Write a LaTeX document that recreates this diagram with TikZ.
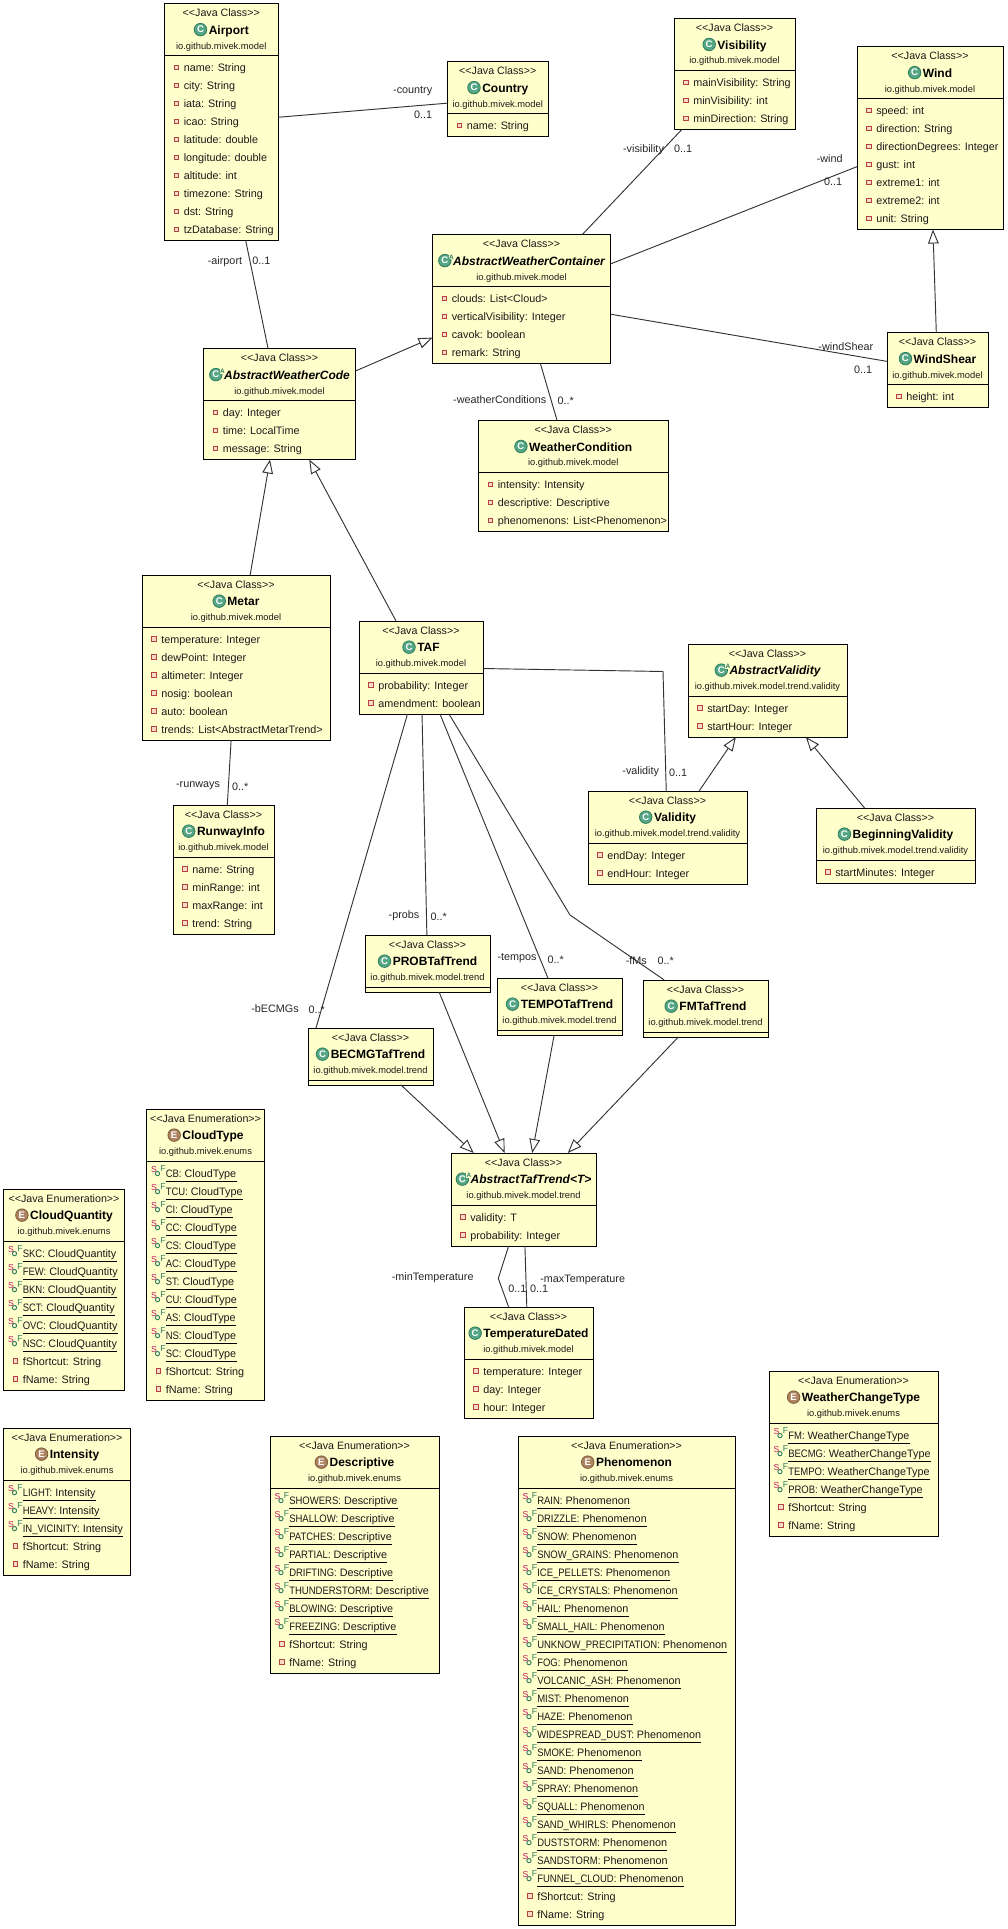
\documentclass[tikz,border=0pt]{standalone}
\usepackage{fontspec}
\setmainfont{Liberation Sans}
\newfontfamily\capsfont[FakeStretch=0.88]{Liberation Sans}
\usetikzlibrary{arrows.meta,positioning}
\definecolor{umlYellow}{HTML}{FFFFCC}
\definecolor{iconGreen}{HTML}{55A685}
\definecolor{iconGreenDark}{HTML}{2F7D5E}
\definecolor{iconBrown}{HTML}{AD845F}
\definecolor{iconBrownDark}{HTML}{7D5B3C}
\definecolor{fieldRed}{HTML}{B5403F}
\definecolor{fieldPale}{HTML}{F6DCC4}
\definecolor{staticRed}{HTML}{C2185B}
\tikzset{
  classbox/.style={rectangle,draw=black,fill=umlYellow,line width=0.75pt,inner sep=0pt,outer sep=0pt},
  sepline/.style={draw=black,line width=0.75pt},
  tagtext/.style={anchor=base,inner sep=0pt,text=black!90,font=\fontsize{8pt}{10pt}\selectfont},
  titletext/.style={anchor=base,inner sep=0pt,font=\fontsize{9pt}{10pt}\selectfont\bfseries},
  pkgtext/.style={anchor=base,inner sep=0pt,text=black!90,font=\fontsize{7pt}{9pt}\selectfont},
  rowtext/.style={anchor=base west,inner sep=0pt,text=black!90,text height=6.5pt,text depth=3.2pt,font=\fontsize{8.1pt}{10pt}\selectfont},
  rowline/.style={draw=black,line width=0.6pt},
  fieldicon/.style={rectangle,draw=fieldRed,fill=fieldPale,line width=0.75pt,minimum size=3.2pt,inner sep=0pt},
  staticS/.style={inner sep=0pt,text=staticRed,font=\fontsize{6.5pt}{7pt}\selectfont},
  staticF/.style={inner sep=0pt,text=iconGreenDark,font=\fontsize{6.5pt}{7pt}\selectfont},
  staticdot/.style={circle,draw=iconGreenDark,line width=0.7pt,minimum size=3.2pt,inner sep=0pt},
  iconC/.style={circle,draw=iconGreenDark,fill=iconGreen,line width=0.6pt,minimum size=9.4pt,inner sep=0pt,text=white,font=\fontsize{7.2pt}{8pt}\selectfont\bfseries},
  iconA/.style={iconC,label={[abstractmark]center:A}},
  iconE/.style={iconC,draw=iconBrownDark,fill=iconBrown},
  abstractmark/.style={inner sep=0.2pt,xshift=4.9pt,yshift=2.7pt,text=iconGreenDark,fill=umlYellow,font=\fontsize{4.8pt}{5pt}\selectfont\bfseries},
  assoc/.style={draw=black!80,line width=0.7pt},
  extends/.style={assoc,-{Triangle[open,fill=white,length=10.5pt,width=8pt]}},
  rolelabel/.style={inner sep=0pt,text=black!85,font=\fontsize{8.1pt}{10pt}\selectfont}
}
\newcommand{\iconletterC}{C}
\newcommand{\iconletterA}{C}
\newcommand{\iconletterE}{E}
\newcommand{\umltagC}{<{}<Java Class>{}>}
\newcommand{\umltagA}{<{}<Java Class>{}>}
\newcommand{\umltagE}{<{}<Java Enumeration>{}>}
\def\constsplit#1: #2\relax{{\capsfont #1:} #2}
% name, left, right, top, number of rows, kind, title, package
\newcommand{\umlclass}[8]{
  \pgfmathsetmacro\leftx{#2}
  \pgfmathsetmacro\sepy{#4+52}
  \pgfmathsetmacro\midx{(#2+#3)/2}
  \pgfmathsetmacro\boxh{57+18*#5}
  \node[classbox,minimum width=(#3-#2)*0.75pt,minimum height=\boxh*0.75pt] (#1) at (\midx,#4+\boxh/2) {};
  \draw[sepline] (#2,\sepy) -- (#3,\sepy);
  \node[tagtext] (#1-tag) at (\midx,#4+13.3) {\csname umltag#6\endcsname};
  \node[titletext] (#1-title) at (\midx+7.5,#4+30.8) {#7};
  \node[icon#6,left=1pt of #1-title.base west,yshift=3.5pt] (#1-icon) {\csname iconletter#6\endcsname};
  \node[pkgtext] (#1-pkg) at (\midx,#4+45.6) {#8};
}
% name, first row, rows
\newcommand{\umlfields}[3]{
  \foreach \entry [count=\rowno from #2] in {#3} {
    \pgfmathsetmacro\rowy{\sepy+16+18*\rowno}
    \node[rowtext] (#1-r\rowno) at (\leftx+19,\rowy) {\entry};
    \node[fieldicon] (#1-f\rowno) at (\leftx+12,\rowy-4) {};
  }
}
\newcommand{\umlconsts}[3]{
  \foreach \entry [count=\rowno from #2] in {#3} {
    \pgfmathsetmacro\rowy{\sepy+16+18*\rowno}
    \node[rowtext] (#1-r\rowno) at (\leftx+19,\rowy) {\expandafter\constsplit\entry\relax};
    \draw[rowline] (#1-r\rowno.south west) -- (#1-r\rowno.south east);
    \node[staticdot] (#1-d\rowno) at (\leftx+11,\rowy-3.4) {};
    \node[staticS] (#1-s\rowno) at (\leftx+7.5,\rowy-7.5) {S};
    \node[staticF] (#1-t\rowno) at (\leftx+16.6,\rowy-8.3) {F};
  }
}
\begin{document}
\begin{tikzpicture}[x=0.75pt,y=-0.75pt]
  \useasboundingbox (0,0) rectangle (1007,1929);
  \umlclass{airport}{164.5}{278}{3.5}{10}{C}{Airport}{io.github.mivek.model}
  \umlfields{airport}{0}{name: String,city: String,iata: String,icao: String,latitude: double,longitude: double,altitude: int,timezone: String,dst: String,tzDatabase: String}
  \umlclass{country}{447.5}{548}{61.5}{1}{C}{Country}{io.github.mivek.model}
  \umlfields{country}{0}{name: String}
  \umlclass{visibility}{674}{795}{18.3}{3}{C}{Visibility}{io.github.mivek.model}
  \umlfields{visibility}{0}{mainVisibility: String,minVisibility: int,minDirection: String}
  \umlclass{wind}{857}{1003}{46.5}{7}{C}{Wind}{io.github.mivek.model}
  \umlfields{wind}{0}{speed: int,direction: String,directionDegrees: Integer,gust: int,extreme1: int,extreme2: int,unit: String}
  \umlclass{container}{432.5}{610.5}{234.5}{4}{A}{\itshape AbstractWeatherContainer}{io.github.mivek.model}
  \umlfields{container}{0}{clouds: List<Cloud>,verticalVisibility: Integer,cavok: boolean,remark: String}
  \umlclass{windShear}{887}{988}{332.5}{1}{C}{WindShear}{io.github.mivek.model}
  \umlfields{windShear}{0}{height: int}
  \umlclass{condition}{478.5}{668}{420.3}{3}{C}{WeatherCondition}{io.github.mivek.model}
  \umlfields{condition}{0}{intensity: Intensity,descriptive: Descriptive,phenomenons: List<Phenomenon>}
  \umlclass{code}{203.5}{355.5}{348.5}{3}{A}{\itshape AbstractWeatherCode}{io.github.mivek.model}
  \umlfields{code}{0}{day: Integer,time: LocalTime,message: String}
  \umlclass{metar}{142}{330}{575}{6}{C}{Metar}{io.github.mivek.model}
  \umlfields{metar}{0}{temperature: Integer,dewPoint: Integer,altimeter: Integer,nosig: boolean,auto: boolean,trends: List<AbstractMetarTrend>}
  \umlclass{taf}{359}{483}{621}{2}{C}{TAF}{io.github.mivek.model}
  \umlfields{taf}{0}{probability: Integer,amendment: boolean}
  \umlclass{runway}{173}{274}{805}{4}{C}{RunwayInfo}{io.github.mivek.model}
  \umlfields{runway}{0}{name: String,minRange: int,maxRange: int,trend: String}
  \umlclass{absValidity}{688}{847}{644}{2}{A}{\itshape AbstractValidity}{io.github.mivek.model.trend.validity}
  \umlfields{absValidity}{0}{startDay: Integer,startHour: Integer}
  \umlclass{validity}{588}{747}{791}{2}{C}{Validity}{io.github.mivek.model.trend.validity}
  \umlfields{validity}{0}{endDay: Integer,endHour: Integer}
  \umlclass{beginValidity}{816}{975}{808}{1}{C}{BeginningValidity}{io.github.mivek.model.trend.validity}
  \umlfields{beginValidity}{0}{startMinutes: Integer}
  \umlclass{prob}{365}{490}{935}{0}{C}{PROBTafTrend}{io.github.mivek.model.trend}
  \umlclass{tempo}{497}{622}{978}{0}{C}{TEMPOTafTrend}{io.github.mivek.model.trend}
  \umlclass{fm}{643}{768}{980}{0}{C}{FMTafTrend}{io.github.mivek.model.trend}
  \umlclass{becmg}{308}{433}{1028}{0}{C}{BECMGTafTrend}{io.github.mivek.model.trend}
  \umlclass{tafTrend}{451}{596}{1153}{2}{A}{\itshape AbstractTafTrend<T>}{io.github.mivek.model.trend}
  \umlfields{tafTrend}{0}{validity: T,probability: Integer}
  \umlclass{tempDated}{464}{593}{1307}{3}{C}{TemperatureDated}{io.github.mivek.model}
  \umlfields{tempDated}{0}{temperature: Integer,day: Integer,hour: Integer}
  \umlclass{cloudQuantity}{3.5}{124.5}{1189}{8}{E}{CloudQuantity}{io.github.mivek.enums}
  \umlconsts{cloudQuantity}{0}{SKC: CloudQuantity,FEW: CloudQuantity,BKN: CloudQuantity,SCT: CloudQuantity,OVC: CloudQuantity,NSC: CloudQuantity}
  \umlfields{cloudQuantity}{6}{fShortcut: String,fName: String}
  \umlclass{cloudType}{146.5}{264.5}{1109}{13}{E}{CloudType}{io.github.mivek.enums}
  \umlconsts{cloudType}{0}{CB: CloudType,TCU: CloudType,CI: CloudType,CC: CloudType,CS: CloudType,AC: CloudType,ST: CloudType,CU: CloudType,AS: CloudType,NS: CloudType,SC: CloudType}
  \umlfields{cloudType}{11}{fShortcut: String,fName: String}
  \umlclass{intensity}{3.5}{130.5}{1428}{5}{E}{Intensity}{io.github.mivek.enums}
  \umlconsts{intensity}{0}{LIGHT: Intensity,HEAVY: Intensity,IN\_VICINITY: Intensity}
  \umlfields{intensity}{3}{fShortcut: String,fName: String}
  \umlclass{descriptive}{270}{439}{1436}{10}{E}{Descriptive}{io.github.mivek.enums}
  \umlconsts{descriptive}{0}{SHOWERS: Descriptive,SHALLOW: Descriptive,PATCHES: Descriptive,PARTIAL: Descriptive,DRIFTING: Descriptive,THUNDERSTORM: Descriptive,BLOWING: Descriptive,FREEZING: Descriptive}
  \umlfields{descriptive}{8}{fShortcut: String,fName: String}
  \umlclass{phenomenon}{518}{735}{1436}{24}{E}{Phenomenon}{io.github.mivek.enums}
  \umlconsts{phenomenon}{0}{RAIN: Phenomenon,DRIZZLE: Phenomenon,SNOW: Phenomenon,SNOW\_GRAINS: Phenomenon,ICE\_PELLETS: Phenomenon,ICE\_CRYSTALS: Phenomenon,HAIL: Phenomenon,SMALL\_HAIL: Phenomenon,UNKNOW\_PRECIPITATION: Phenomenon,FOG: Phenomenon,VOLCANIC\_ASH: Phenomenon,MIST: Phenomenon,HAZE: Phenomenon,WIDESPREAD\_DUST: Phenomenon,SMOKE: Phenomenon,SAND: Phenomenon,SPRAY: Phenomenon,SQUALL: Phenomenon,SAND\_WHIRLS: Phenomenon,DUSTSTORM: Phenomenon,SANDSTORM: Phenomenon,FUNNEL\_CLOUD: Phenomenon}
  \umlfields{phenomenon}{22}{fShortcut: String,fName: String}
  \umlclass{changeType}{769}{938}{1371}{6}{E}{WeatherChangeType}{io.github.mivek.enums}
  \umlconsts{changeType}{0}{FM: WeatherChangeType,BECMG: WeatherChangeType,TEMPO: WeatherChangeType,PROB: WeatherChangeType}
  \umlfields{changeType}{4}{fShortcut: String,fName: String}
  % bends of the associations
  \coordinate (validityBend) at (663,671.5);
  \coordinate (fmBend) at (570,915);
  \coordinate (minBend) at (498.3,1278.3);
  \coordinate (becmgEnd) at (316,1028);
  % associations
  \draw[assoc] (airport) -- (country);
  \draw[assoc] (airport) -- (code);
  \draw[assoc] (container) -- (visibility);
  \draw[assoc] (container) -- (wind);
  \draw[assoc] (container) -- (windShear);
  \draw[assoc] (container) -- (condition);
  \draw[assoc] (metar) -- (runway);
  \draw[assoc] (taf) -- (validityBend) -- (validity);
  \draw[assoc] (taf) -- (fmBend) -- (fm);
  \draw[assoc] (taf) -- (tempo);
  \draw[assoc] (taf) -- (prob);
  \draw[assoc] (taf) -- (becmgEnd);
  \draw[assoc] (tafTrend) -- (minBend) -- (tempDated);
  \draw[assoc] (tafTrend) -- (tempDated);
  % generalizations
  \draw[extends] (code) -- (container);
  \draw[extends] (metar) -- (code);
  \draw[extends] (taf) -- (code);
  \draw[extends] (windShear) -- (wind);
  \draw[extends] (validity) -- (absValidity);
  \draw[extends] (beginValidity) -- (absValidity);
  \draw[extends] (becmg) -- (tafTrend);
  \draw[extends] (prob) -- (tafTrend);
  \draw[extends] (tempo) -- (tafTrend);
  \draw[extends] (fm) -- (tafTrend);
  % role names and multiplicities
  \node[rolelabel] (countryRole) at (412.7,91) {-country};
  \node[rolelabel] (countryMult) at (423,114.3) {0..1};
  \node[rolelabel] (airportRole) at (225,261.7) {-airport};
  \node[rolelabel] (airportMult) at (261.3,260.5) {0..1};
  \node[rolelabel] (visibilityRole) at (643.5,150) {-visibility};
  \node[rolelabel] (visibilityMult) at (683,149) {0..1};
  \node[rolelabel] (windRole) at (829.7,159) {-wind};
  \node[rolelabel] (windMult) at (833,182) {0..1};
  \node[rolelabel] (shearRole) at (845.8,347) {-windShear};
  \node[rolelabel] (shearMult) at (863,370) {0..1};
  \node[rolelabel] (conditionRole) at (499.7,400) {-weatherConditions};
  \node[rolelabel] (conditionMult) at (565.7,400.6) {0..*};
  \node[rolelabel] (runwayRole) at (198,785.3) {-runways};
  \node[rolelabel] (runwayMult) at (240.3,786.3) {0..*};
  \node[rolelabel] (probRole) at (404,915.7) {-probs};
  \node[rolelabel] (probMult) at (438.7,916.3) {0..*};
  \node[rolelabel] (tempoRole) at (517,958) {-tempos};
  \node[rolelabel] (tempoMult) at (555.7,959.3) {0..*};
  \node[rolelabel] (fmRole) at (636.3,960.3) {-fMs};
  \node[rolelabel] (fmMult) at (665.7,961) {0..*};
  \node[rolelabel] (becmgRole) at (275,1008.3) {-bECMGs};
  \node[rolelabel] (becmgMult) at (316.7,1009.3) {0..*};
  \node[rolelabel] (validityRole) at (640.7,771.7) {-validity};
  \node[rolelabel] (validityMult) at (678,772.3) {0..1};
  \node[rolelabel] (minRole) at (432.7,1277.3) {-minTemperature};
  \node[rolelabel] (minMult) at (517.3,1288.3) {0..1};
  \node[rolelabel] (maxRole) at (582.7,1280.3) {-maxTemperature};
  \node[rolelabel] (maxMult) at (539,1288.3) {0..1};
\end{tikzpicture}
\end{document}
